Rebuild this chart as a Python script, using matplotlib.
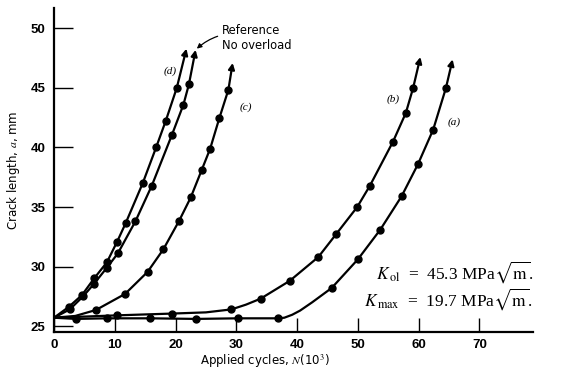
import matplotlib
matplotlib.use("Agg")
import matplotlib.pyplot as plt

# crack length vs applied cycles
d_x = [0, 2.4, 4.6, 6.6, 8.7, 10.4, 11.8, 14.6, 16.8, 18.4, 20.2]
d_y = [25.7, 26.6, 27.6, 29.0, 30.35, 32.1, 33.65, 37.0, 40.0, 42.25, 45.0]
d_tip = (21.8, 48.3)

ref_x = [0, 2.6, 4.8, 6.5, 8.7, 10.5, 13.4, 16.1, 19.4, 21.3, 22.2]
ref_y = [25.7, 26.4, 27.5, 28.5, 29.9, 31.1, 33.8, 36.8, 41.05, 43.6, 45.3]
ref_tip = (23.3, 48.2)

c_x = [0, 3.5, 6.9, 11.7, 15.4, 18.0, 20.6, 22.5, 24.3, 25.7, 27.2, 28.7]
c_y = [25.7, 25.85, 26.35, 27.7, 29.55, 31.45, 33.85, 35.8, 38.1, 39.9, 42.45, 44.85]
c_tip = (29.4, 47.1)

b_x = [0, 10.4, 19.5, 25.0, 29.2, 31.6, 34.0, 38.8, 43.5, 46.4, 49.9, 52.0, 55.8, 57.9, 59.1]
b_y = [25.7, 25.9, 26.05, 26.15, 26.4, 26.8, 27.3, 28.8, 30.8, 32.7, 35.0, 36.8, 40.5, 42.9, 45.0]
b_tip = (60.3, 47.6)

a_x = [0, 3.6, 8.7, 15.8, 23.4, 30.3, 36.9, 37.9, 39.2, 40.5, 42.5, 45.7, 50.0, 53.7, 57.2, 59.9, 62.4, 64.5]
a_y = [25.7, 25.6, 25.65, 25.65, 25.6, 25.65, 25.65, 25.7, 25.95, 26.3, 27.0, 28.2, 30.6, 33.1, 35.9, 38.6, 41.5, 45.0]
a_tip = (65.6, 47.4)

# which points carry a dot marker
d_marks = list(range(1, 11))
ref_marks = list(range(1, 11))
c_marks = list(range(2, 12))
b_marks = [1, 2, 4, 6, 7, 8, 9, 10, 11, 12, 13, 14]
a_marks = [1, 2, 3, 4, 5, 6, 11, 12, 13, 14, 15, 16, 17]

curves = [
    (d_x, d_y, d_tip, d_marks),
    (ref_x, ref_y, ref_tip, ref_marks),
    (c_x, c_y, c_tip, c_marks),
    (b_x, b_y, b_tip, b_marks),
    (a_x, a_y, a_tip, a_marks),
]

plt.rcParams['mathtext.fontset'] = 'stix'

fig = plt.figure(figsize=(5.62, 3.72), dpi=100)
ax = fig.add_axes([0.0961, 0.1075, 0.852, 0.8705])

for xs, ys, tip, marks in curves:
    ax.plot(xs, ys, color='black', lw=1.6, solid_joinstyle='round')
    ax.plot([xs[i] for i in marks], [ys[i] for i in marks], 'o',
            color='black', ms=5)
    ax.annotate('', xy=tip, xytext=(xs[-1], ys[-1]),
                arrowprops=dict(arrowstyle='-|>', color='black', lw=1.6,
                                mutation_scale=9, shrinkA=0, shrinkB=0))

ax.set_xlim(0, 78.8)
ax.set_ylim(24.5, 51.7)
ax.spines['top'].set_visible(False)
ax.spines['right'].set_visible(False)
ax.spines['left'].set_linewidth(1.6)
ax.spines['bottom'].set_linewidth(1.6)

ax.set_xticks([0, 10, 20, 30, 40, 50, 60, 70])
ax.set_yticks([25, 30, 35, 40, 45, 50])
ax.tick_params(axis='x', direction='in', length=10, width=1, pad=5)
ax.tick_params(axis='y', direction='in', length=14, width=1, pad=6)
for lab in ax.get_xticklabels() + ax.get_yticklabels():
    lab.set_fontfamily('Liberation Sans')
    lab.set_fontweight('bold')
    lab.set_fontsize(9.5)

ax.set_ylabel(r'Crack length, $a$, mm', fontsize=8.5, fontfamily='DejaVu Sans')
ax.yaxis.set_label_coords(-0.067, 0.5)
ax.set_xlabel(r'Applied cycles, $N$(10$^3$)', fontsize=8.5, fontfamily='DejaVu Sans')
ax.xaxis.set_label_coords(0.44, -0.065)

# curve tags
tag_font = dict(fontsize=8, fontstyle='italic', fontfamily='Liberation Serif')
ax.text(18.0, 46.2, '(d)', **tag_font)
ax.text(30.6, 43.2, '(c)', **tag_font)
ax.text(54.8, 43.8, '(b)', **tag_font)
ax.text(64.8, 41.9, '(a)', **tag_font)

ax.annotate('Reference\nNo overload', xy=(23.5, 48.3), xytext=(27.6, 49.2),
            fontsize=8.3, fontfamily='DejaVu Sans', va='center', ha='left',
            linespacing=1.15,
            arrowprops=dict(arrowstyle='-|>', color='black', lw=0.9,
                            mutation_scale=7, shrinkA=1, shrinkB=0,
                            connectionstyle='arc3,rad=0.3'))

k_font = dict(fontsize=12.5, fontfamily='Liberation Serif', ha='right', va='center',
              transform=ax.transAxes)
ax.text(1.0, 0.184, r'$K_{\,\mathrm{ol}}$  =  45.3 MPa$\sqrt{\mathrm{m}}$.', **k_font)
ax.text(1.0, 0.102, r'$K_{\,\mathrm{max}}$  =  19.7 MPa$\sqrt{\mathrm{m}}$.', **k_font)

fig.savefig('out.png', dpi=100)
